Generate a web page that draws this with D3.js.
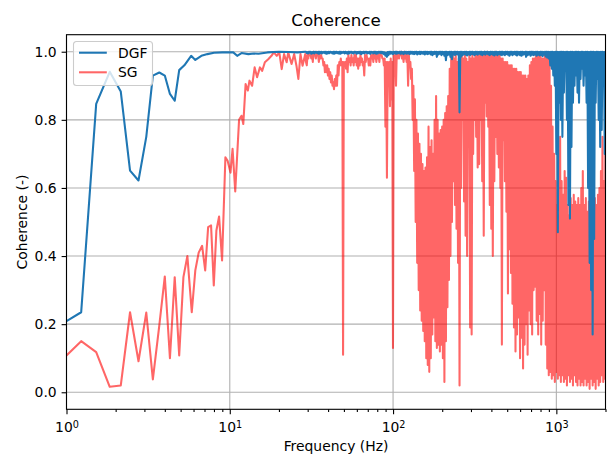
<!DOCTYPE html>
<html>
<head>
<meta charset="utf-8">
<script src="https://cdn.jsdelivr.net/npm/d3@7"></script>
<style>
body { margin: 0; background: #fff; }
text { font-family: "DejaVu Sans", sans-serif; }
</style>
</head>
<body>
<script>
/*****************  Data *******************************************/

// low frequency part, one point per value
var dgfLowFreq = [1.0, 1.23, 1.52, 1.84, 2.15, 2.45, 2.76, 3.08, 3.38, 3.7, 4.0, 4.3, 4.6, 4.9, 5.27,
    5.8, 6.15, 6.7, 7.3, 8.0, 9.0, 10.0, 10.5, 11.1, 11.8, 13.0, 14.0, 15.0, 17.0, 20.0, 23.0, 26.0, 29.0];
var dgfLow = [0.209, 0.235, 0.847, 0.941, 0.883, 0.651, 0.622, 0.750, 0.930, 0.939, 0.930, 0.876, 0.856, 0.946, 0.960,
    0.988, 0.976, 0.988, 0.993, 0.997, 0.998, 0.998, 0.998, 0.988, 0.996, 0.993, 0.995, 0.994, 0.998, 1.0, 0.999, 0.998, 1.0];

var sgLowFreq = [1.0, 1.23, 1.52, 1.84, 2.15, 2.45, 2.76, 3.08, 3.38, 3.7, 4.0, 4.3, 4.6, 4.9, 5.2,
    5.5, 5.85, 6.15, 6.45, 6.77, 7.07, 7.37, 7.68, 7.98, 8.28, 8.6, 8.97, 9.4, 9.7, 10.1,
    10.4, 10.8, 11.4, 11.8, 12.1, 12.5, 12.9, 13.2, 13.7, 14.2, 14.7, 15.3, 15.8, 16.4, 17.2,
    18.0, 18.6, 19.4, 20.1, 20.8, 21.5, 22.3, 22.8, 23.9, 24.8, 25.6, 26.3, 27.1, 27.9, 29.0];
var sgLow = [0.108, 0.150, 0.118, 0.016, 0.020, 0.235, 0.091, 0.234, 0.038, 0.196, 0.340, 0.100, 0.338, 0.108, 0.338,
    0.400, 0.235, 0.358, 0.410, 0.430, 0.358, 0.485, 0.490, 0.314, 0.475, 0.516, 0.387, 0.690, 0.680, 0.645,
    0.715, 0.590, 0.800, 0.812, 0.788, 0.905, 0.886, 0.915, 0.900, 0.954, 0.925, 0.954, 0.944, 0.969, 0.978,
    0.988, 0.998, 0.988, 0.998, 0.949, 0.993, 0.969, 0.998, 0.964, 0.993, 0.959, 0.920, 0.993, 0.959, 0.993];

// dense part: top and bottom of the trace in each log-spaced bin from bandStart to bandEnd
var bandStart = 29.3;
var bandEnd = 2000;

var sgBandHi = [
    0.97, 0.99, 1.00, 0.99, 0.99, 1.00, 0.99, 1.00, 0.99, 0.99,
    0.99, 0.98, 0.97, 0.96, 0.96, 0.95, 0.94, 0.93, 0.91, 0.92,
    0.93, 0.96, 0.97, 0.98, 0.97, 0.97, 0.97, 0.98, 0.99, 0.98,
    0.99, 0.98, 0.99, 0.99, 0.98, 0.98, 0.99, 0.98, 0.97, 0.99,
    0.99, 0.98, 0.98, 0.99, 0.99, 1.00, 0.99, 0.99, 0.99, 1.00,
    0.99, 0.98, 0.98, 0.97, 0.97, 0.97, 0.98, 0.97, 0.99, 0.99,
    1.00, 0.99, 1.00, 1.00, 0.99, 1.00, 0.99, 0.99, 0.99, 0.97,
    0.95, 0.90, 0.86, 0.80, 0.76, 0.73, 0.70, 0.67, 0.65, 0.66,
    0.69, 0.78, 0.72, 0.74, 0.70, 0.80, 0.87, 0.80, 0.76, 0.77,
    0.78, 0.80, 0.82, 0.84, 0.87, 0.95, 0.99, 0.99, 0.98, 0.99,
    0.97, 0.98, 0.97, 0.99, 0.98, 0.99, 0.98, 0.97, 0.99, 0.98,
    0.99, 0.98, 0.99, 0.99, 0.99, 0.99, 0.99, 0.99, 1.00, 0.99,
    1.00, 0.99, 0.99, 0.99, 0.99, 1.00, 0.99, 0.99, 0.99, 0.98,
    0.98, 0.97, 0.97, 0.97, 0.96, 0.96, 0.96, 0.95, 0.95, 0.95,
    0.94, 0.94, 0.94, 0.93, 0.93, 0.93, 0.92, 0.93, 0.96, 0.97,
    0.98, 0.98, 0.99, 0.99, 0.99, 0.99, 0.98, 0.98, 0.99, 0.99,
    0.99, 0.99, 0.90, 0.78, 0.70, 0.62, 0.55, 0.52, 0.75, 0.62,
    0.58, 0.65, 0.63, 0.55, 0.52, 0.57, 0.55, 0.58, 0.56, 0.55,
    0.57, 0.55, 0.60, 0.65, 0.55, 0.57, 0.53, 0.56, 0.55, 0.58,
    0.54, 0.57, 0.55, 0.58, 0.60, 0.65, 0.75, 0.62, 0.85];
var sgBandLo = [
    0.96, 0.98, 0.99, 0.98, 0.97, 0.99, 0.98, 0.99, 0.97, 0.98,
    0.98, 0.96, 0.94, 0.94, 0.93, 0.92, 0.91, 0.90, 0.89, 0.90,
    0.90, 0.93, 0.96, 0.96, 0.11, 0.96, 0.95, 0.94, 0.97, 0.96,
    0.97, 0.96, 0.97, 0.96, 0.95, 0.96, 0.97, 0.96, 0.93, 0.97,
    0.98, 0.96, 0.96, 0.98, 0.97, 0.98, 0.97, 0.98, 0.97, 0.99,
    0.98, 0.96, 0.78, 0.63, 0.90, 0.84, 0.86, 0.13, 0.97, 0.90,
    0.98, 0.98, 0.99, 0.98, 0.97, 0.98, 0.97, 0.90, 0.96, 0.92,
    0.80, 0.65, 0.50, 0.38, 0.30, 0.24, 0.21, 0.18, 0.15, 0.10,
    0.08, 0.06, 0.10, 0.17, 0.22, 0.15, 0.13, 0.14, 0.12, 0.14,
    0.10, 0.03, 0.15, 0.25, 0.33, 0.40, 0.50, 0.62, 0.55, 0.48,
    0.38, 0.02, 0.60, 0.80, 0.56, 0.46, 0.40, 0.80, 0.19, 0.17,
    0.70, 0.80, 0.75, 0.66, 0.67, 0.80, 0.62, 0.46, 0.85, 0.81,
    0.78, 0.55, 0.48, 0.40, 0.62, 0.75, 0.70, 0.66, 0.60, 0.14,
    0.74, 0.62, 0.53, 0.29, 0.42, 0.35, 0.26, 0.19, 0.12, 0.17,
    0.22, 0.10, 0.16, 0.07, 0.14, 0.20, 0.11, 0.24, 0.20, 0.17,
    0.30, 0.31, 0.21, 0.17, 0.23, 0.14, 0.21, 0.30, 0.14, 0.07,
    0.05, 0.06, 0.04, 0.05, 0.03, 0.06, 0.04, 0.05, 0.03, 0.05,
    0.03, 0.04, 0.02, 0.05, 0.03, 0.04, 0.02, 0.05, 0.03, 0.02,
    0.04, 0.02, 0.03, 0.02, 0.04, 0.02, 0.03, 0.01, 0.04, 0.02,
    0.03, 0.01, 0.04, 0.02, 0.03, 0.05, 0.03, 0.04, 0.06];

var dgfBandHi = [
    1.000, 0.999, 1.000, 1.000, 0.999, 1.000, 1.000, 0.999, 1.000, 1.000,
    1.000, 0.999, 1.000, 1.000, 0.999, 1.000, 1.000, 0.999, 1.000, 1.000,
    1.000, 0.999, 1.000, 1.000, 0.999, 1.000, 1.000, 0.999, 1.000, 1.000,
    1.000, 0.999, 1.000, 1.000, 0.999, 1.000, 1.000, 0.999, 1.000, 1.000,
    1.000, 0.999, 1.000, 1.000, 0.999, 1.000, 1.000, 0.999, 1.000, 1.000,
    1.000, 0.999, 0.998, 0.997, 0.999, 1.000, 1.000, 0.999, 1.000, 1.000,
    1.000, 0.999, 1.000, 1.000, 0.999, 1.000, 1.000, 0.999, 1.000, 1.000,
    1.000, 0.999, 1.000, 1.000, 0.999, 1.000, 1.000, 0.999, 1.000, 1.000,
    1.000, 0.999, 1.000, 1.000, 0.999, 1.000, 1.000, 0.999, 1.000, 1.000,
    1.000, 0.999, 1.000, 1.000, 0.999, 1.000, 1.000, 0.999, 1.000, 1.000,
    1.000, 0.999, 1.000, 1.000, 0.999, 1.000, 1.000, 0.999, 1.000, 1.000,
    1.000, 0.999, 1.000, 1.000, 0.999, 1.000, 1.000, 0.999, 1.000, 1.000,
    1.000, 0.999, 1.000, 1.000, 0.999, 1.000, 1.000, 0.999, 1.000, 1.000,
    1.000, 0.999, 1.000, 1.000, 0.999, 1.000, 1.000, 0.999, 1.000, 1.000,
    1.000, 0.999, 1.000, 1.000, 0.999, 1.000, 1.000, 0.999, 1.000, 1.000,
    1.000, 0.999, 1.000, 1.000, 0.999, 1.000, 1.000, 0.999, 1.000, 1.000,
    1.000, 0.999, 1.000, 1.000, 0.999, 1.000, 1.000, 0.999, 1.000, 1.000,
    1.000, 0.999, 1.000, 1.000, 0.999, 1.000, 1.000, 0.999, 1.000, 1.000,
    1.000, 0.999, 1.000, 1.000, 0.999, 1.000, 1.000, 0.999, 1.000, 1.000,
    1.000, 0.999, 1.000, 1.000, 0.999, 1.000, 1.000, 0.999, 1.000];
var dgfBandLo = [
    0.996, 0.995, 0.997, 0.994, 0.996, 0.995, 0.997, 0.996, 0.994, 0.996,
    0.995, 0.997, 0.996, 0.994, 0.995, 0.996, 0.997, 0.995, 0.994, 0.996,
    0.996, 0.995, 0.994, 0.996, 0.997, 0.995, 0.996, 0.994, 0.995, 0.997,
    0.996, 0.995, 0.997, 0.994, 0.996, 0.995, 0.993, 0.996, 0.995, 0.997,
    0.995, 0.996, 0.994, 0.997, 0.995, 0.996, 0.994, 0.995, 0.997, 0.996,
    0.995, 0.993, 0.988, 0.985, 0.990, 0.994, 0.995, 0.993, 0.996, 0.994,
    0.995, 0.996, 0.994, 0.995, 0.993, 0.996, 0.994, 0.995, 0.993, 0.995,
    0.994, 0.993, 0.995, 0.992, 0.994, 0.993, 0.995, 0.994, 0.992, 0.994,
    0.993, 0.995, 0.992, 0.990, 0.993, 0.994, 0.985, 0.992, 0.994, 0.990,
    0.993, 0.988, 0.975, 0.990, 0.992, 0.985, 0.978, 0.992, 0.990, 0.993,
    0.991, 0.822, 0.985, 0.990, 0.993, 0.991, 0.989, 0.992, 0.990, 0.993,
    0.992, 0.990, 0.993, 0.991, 0.994, 0.992, 0.990, 0.993, 0.991, 0.994,
    0.992, 0.990, 0.993, 0.991, 0.989, 0.992, 0.990, 0.993, 0.991, 0.990,
    0.992, 0.990, 0.993, 0.991, 0.988, 0.992, 0.990, 0.993, 0.991, 0.989,
    0.992, 0.990, 0.988, 0.991, 0.993, 0.985, 0.990, 0.992, 0.988, 0.991,
    0.990, 0.992, 0.988, 0.991, 0.989, 0.990, 0.987, 0.991, 0.986, 0.983,
    0.980, 0.960, 0.950, 0.930, 0.900, 0.700, 0.470, 0.850, 0.800, 0.750,
    0.880, 0.950, 0.800, 0.550, 0.510, 0.720, 0.850, 0.900, 0.930, 0.880,
    0.850, 0.920, 0.950, 0.900, 0.930, 0.850, 0.600, 0.380, 0.300, 0.170,
    0.450, 0.850, 0.920, 0.800, 0.720, 0.770, 0.900, 0.700, 0.380];

var xTicks = [1, 10, 100, 1000];
var xMinorTicks = [2, 3, 4, 5, 6, 7, 8, 9, 20, 30, 40, 50, 60, 70, 80, 90,
    200, 300, 400, 500, 600, 700, 800, 900, 2000];
var yTicks = [0, 0.2, 0.4, 0.6, 0.8, 1.0];
var series = ["DGF", "SG"];
var colors = {"DGF": "#1f77b4", "SG": "red"};

/*****************  Setup **********************/

var width = 610;
var height = 455;
var plotLeft = 66.5, plotRight = 605.5, plotTop = 34.7, plotBottom = 409.3;

var svg = d3.select("body").append("svg")
    .attr("width", width)
    .attr("height", height);

var x = d3.scaleLog().domain([1, 2000]).range([plotLeft, plotRight]);
var y = d3.scaleLinear().domain([-0.05, 1.05]).range([plotBottom, plotTop]);

svg.append("defs").append("clipPath")
    .attr("id", "plotClip")
    .append("rect")
    .attr("x", plotLeft)
    .attr("y", plotTop)
    .attr("width", plotRight - plotLeft)
    .attr("height", plotBottom - plotTop);

/*****************  Grid **********************/

svg.selectAll(".xgrid")
    .data(xTicks)
    .enter()
    .append("line")
    .attr("class", "xgrid")
    .attr("x1", function (d) { return x(d); })
    .attr("x2", function (d) { return x(d); })
    .attr("y1", plotTop)
    .attr("y2", plotBottom)
    .attr("stroke", "#b0b0b0")
    .attr("stroke-width", 1.1);

svg.selectAll(".ygrid")
    .data(yTicks)
    .enter()
    .append("line")
    .attr("class", "ygrid")
    .attr("x1", plotLeft)
    .attr("x2", plotRight)
    .attr("y1", function (d) { return y(d); })
    .attr("y2", function (d) { return y(d); })
    .attr("stroke", "#b0b0b0")
    .attr("stroke-width", 1.1);

/*****************  Lines **********************/

function buildPoints(lowFreq, lowVals, hi, lo) {
    var pts = [];
    for (var i = 0; i < lowFreq.length; i++) {
        pts.push([lowFreq[i], lowVals[i]]);
    }
    var n = hi.length;
    var ratio = Math.pow(bandEnd / bandStart, 1 / (n - 1));
    for (var j = 0; j < n; j++) {
        var f = bandStart * Math.pow(ratio, j);
        pts.push([f, hi[j]]);
        pts.push([f * Math.sqrt(ratio), lo[j]]);
    }
    return pts;
}

var line = d3.line()
    .x(function (d) { return x(d[0]); })
    .y(function (d) { return y(d[1]); });

var plot = svg.append("g").attr("clip-path", "url(#plotClip)");

plot.append("path")
    .datum(buildPoints(sgLowFreq, sgLow, sgBandHi, sgBandLo))
    .attr("d", line)
    .attr("fill", "none")
    .attr("stroke", colors.SG)
    .attr("stroke-opacity", 0.6)
    .attr("stroke-width", 2.08)
    .attr("stroke-linejoin", "round");

plot.append("path")
    .datum(buildPoints(dgfLowFreq, dgfLow, dgfBandHi, dgfBandLo))
    .attr("d", line)
    .attr("fill", "none")
    .attr("stroke", colors.DGF)
    .attr("stroke-width", 2.08)
    .attr("stroke-linejoin", "round");

/*****************  Axes **********************/

var xAxis = svg.append("g")
    .attr("transform", "translate(0," + plotBottom + ")")
    .call(d3.axisBottom(x).tickValues(xTicks).tickSize(4.9).tickPadding(4.9));

xAxis.selectAll(".tick text")
    .attr("font-size", "13.9px")
    .attr("y", 23)
    .attr("dy", 0)
    .each(function (d) {
        var t = d3.select(this).text("");
        t.append("tspan").text("10");
        t.append("tspan")
            .attr("dy", "-0.45em")
            .attr("font-size", "9.7px")
            .text(Math.round(Math.log10(d)));
    });

svg.append("g")
    .attr("transform", "translate(0," + plotBottom + ")")
    .call(d3.axisBottom(x).tickValues(xMinorTicks).tickSize(2.8).tickFormat(""))
    .select(".domain").remove();

var yAxis = svg.append("g")
    .attr("transform", "translate(" + plotLeft + ",0)")
    .call(d3.axisLeft(y).tickValues(yTicks).tickSize(4.9).tickPadding(4.9).tickFormat(d3.format(".1f")));

yAxis.selectAll(".tick text").attr("font-size", "13.9px");

svg.selectAll(".domain").remove();
svg.selectAll(".tick line").attr("stroke", "#000").attr("stroke-width", 1.1);

svg.append("rect")
    .attr("x", plotLeft)
    .attr("y", plotTop)
    .attr("width", plotRight - plotLeft)
    .attr("height", plotBottom - plotTop)
    .attr("fill", "none")
    .attr("stroke", "#000")
    .attr("stroke-width", 1.1);

/*****************  Labels **********************/

svg.append("text")
    .attr("x", (plotLeft + plotRight) / 2)
    .attr("y", 26)
    .attr("text-anchor", "middle")
    .attr("font-size", "16.7px")
    .text("Coherence");

svg.append("text")
    .attr("x", (plotLeft + plotRight) / 2)
    .attr("y", 451)
    .attr("text-anchor", "middle")
    .attr("font-size", "13.9px")
    .text("Frequency (Hz)");

svg.append("text")
    .attr("transform", "translate(27," + ((plotTop + plotBottom) / 2) + ") rotate(-90)")
    .attr("text-anchor", "middle")
    .attr("font-size", "13.9px")
    .text("Coherence (-)");

/*****************  Legend **********************/

var legend = svg.append("g").attr("transform", "translate(73.5,41.5)");

legend.append("rect")
    .attr("width", 79)
    .attr("height", 44)
    .attr("rx", 3)
    .attr("fill", "#fff")
    .attr("fill-opacity", 0.8)
    .attr("stroke", "#cccccc")
    .attr("stroke-width", 1.1);

var items = legend.selectAll(".item")
    .data(series)
    .enter()
    .append("g")
    .attr("class", "item")
    .attr("transform", function (d, i) { return "translate(0," + (11.2 + i * 19.6) + ")"; });

items.append("line")
    .attr("x1", 5.5)
    .attr("x2", 33.3)
    .attr("stroke", function (d) { return colors[d]; })
    .attr("stroke-opacity", function (d) { return d == "SG" ? 0.6 : 1; })
    .attr("stroke-width", 2.08);

items.append("text")
    .attr("x", 44.5)
    .attr("y", 5)
    .attr("font-size", "13.9px")
    .text(function (d) { return d; });
</script>
</body>
</html>
